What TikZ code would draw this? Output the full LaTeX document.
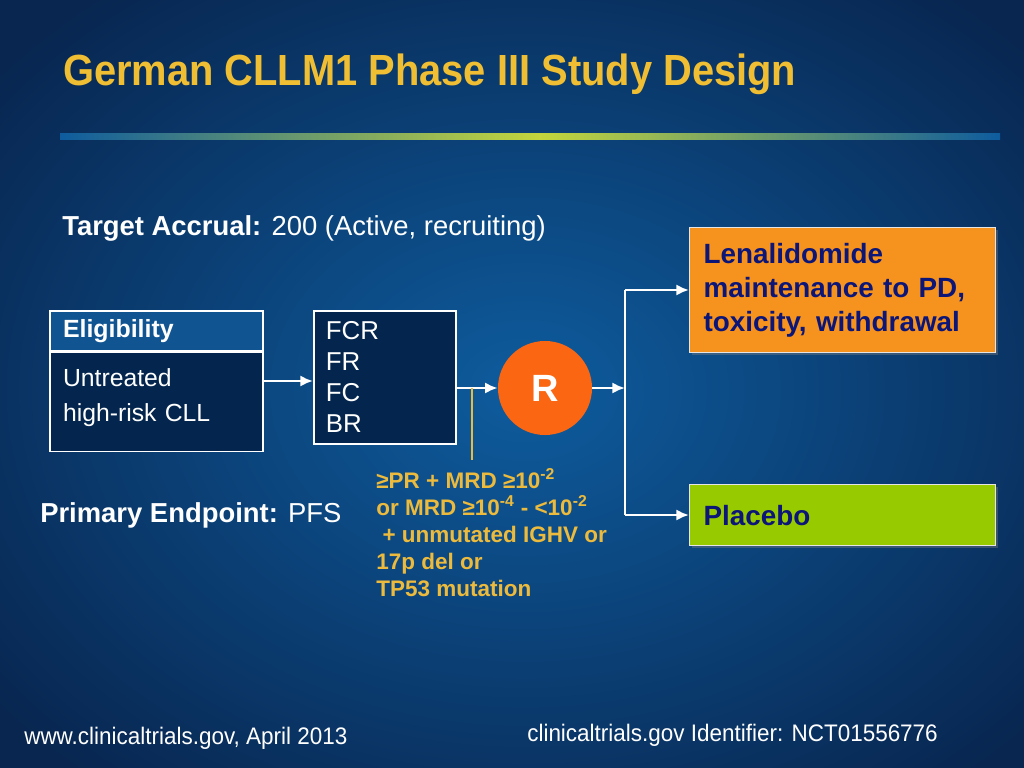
\documentclass[tikz,border=0pt]{standalone}
\usepackage{fontspec}
\setmainfont{Liberation Sans}
\usepackage{graphicx}
\usepackage{xcolor}
\usetikzlibrary{positioning, arrows.meta, shadows}

\definecolor{bginner}{RGB}{14,92,158}
\definecolor{bgouter}{RGB}{8,38,80}
\definecolor{titleyellow}{RGB}{240,190,50}
\definecolor{crityellow}{RGB}{236,186,60}
\definecolor{navyfill}{RGB}{4,38,78}
\definecolor{headblue}{RGB}{16,84,146}
\definecolor{rorange}{RGB}{250,102,18}
\definecolor{armorange}{RGB}{246,146,30}
\definecolor{armgreen}{RGB}{152,202,0}
\definecolor{armtext}{RGB}{12,22,120}
\definecolor{rulegreen}{RGB}{196,214,60}

\begin{document}
\begin{tikzpicture}[x=0.025cm, y=-0.025cm, >={Latex[length=9pt, width=8pt]},
   every node/.style={font=\fontsize{19.5}{23}\selectfont, text=white},
   navybox/.style={draw=white, line width=1.2pt, fill=navyfill, inner sep=0pt},
   armbox/.style={draw=white!80!gray, line width=0.8pt, anchor=north west,
      minimum width=7.65cm, inner xsep=0.35cm, text width=6.95cm, align=left,
      text=armtext, font=\fontsize{19.8}{24}\selectfont\bfseries,
      drop shadow={shadow xshift=2pt, shadow yshift=-2pt, opacity=0.4}},
   flow/.style={->, white, line width=2pt}]

   % background
   \useasboundingbox (0,0) rectangle (1024,768);
   \clip (0,0) rectangle (1024,768);
   \shade[inner color=bginner, outer color=bgouter] (-150,-120) rectangle (1200,900);
   \shade[left color=bginner, right color=rulegreen] (60,134) rectangle (540,140);
   \shade[left color=rulegreen, right color=bginner] (540,134) rectangle (1000,140);

   \node[anchor=base west, inner sep=0pt, text=titleyellow,
      font=\fontsize{31}{36}\selectfont\bfseries] (title) at (63,86)
      {\scalebox{0.914}[1]{German CLLM1 Phase III Study Design}};

   \node[anchor=west, inner sep=0pt] (accrual) at (62,228)
      {\textbf{Target Accrual:} 200 (Active, recruiting)};

   % eligibility
   \node[navybox, fill=headblue, anchor=north west, minimum width=5.33cm,
      minimum height=1cm, inner xsep=0.33cm, text width=4.67cm, align=left,
      font=\fontsize{17.7}{20}\selectfont\bfseries] (elighead) at (49,310) {Eligibility};
   \node[navybox, below=0pt of elighead, minimum width=5.33cm, minimum height=2.475cm,
      inner xsep=0.33cm, text width=4.67cm, align=left,
      font=\fontsize{17.6}{25}\selectfont] (eligbody) {Untreated\\high-risk CLL\\[-15pt]\mbox{}};

   \node[navybox, anchor=north west, minimum width=3.55cm, minimum height=3.325cm,
      inner xsep=0.3cm, text width=2.95cm, align=left,
      font=\fontsize{18.4}{22}\selectfont] (regimen) at (313,310) {FCR\\FR\\FC\\BR};

   \node[circle, fill=rorange, minimum size=2.35cm, inner sep=0pt,
      font=\fontsize{27}{30}\selectfont\bfseries] (rand) at (545,388) {R};

   \coordinate (tap) at (472,388);
   \node[anchor=north west, inner sep=0pt, align=left, text=crityellow,
      font=\fontsize{16}{19.3}\selectfont\bfseries] (crit) at (376,468)
      {≥PR + MRD ≥10\textsuperscript{-2}\\
       or MRD ≥10\textsuperscript{-4} - <10\textsuperscript{-2}\\
       \ + unmutated IGHV or\\
       17p del or\\
       TP53 mutation};
   \coordinate (critend) at (472,460);

   % arms
   \node[armbox, fill=armorange, minimum height=3.125cm] (lena) at (689,227)
      {Lenalidomide\\maintenance to PD,\\toxicity, withdrawal};
   \node[armbox, fill=armgreen, minimum height=1.525cm] (placebo) at (689,484) {Placebo};

   \coordinate (split) at (625,388);
   \coordinate (splittop) at (625,290);
   \coordinate (splitbot) at (625,515);

   \node[anchor=west, inner sep=0pt] (endpoint) at (40,515)
      {\textbf{Primary Endpoint:} PFS};

   \node[anchor=west, inner sep=0pt, font=\fontsize{17}{20}\selectfont] (src) at (24,738)
      {\scalebox{0.94}[1]{www.clinicaltrials.gov, April 2013}};
   \node[anchor=west, inner sep=0pt, font=\fontsize{17}{20}\selectfont] (nct) at (527,735)
      {\scalebox{0.94}[1]{clinicaltrials.gov Identifier: NCT01556776}};

   % connectors
   \draw[flow] (eligbody.east |- 0,381) -- (regimen.west |- 0,381);
   \draw[flow] (regimen.east |- rand) -- (rand.west);
   \draw[crityellow, line width=2pt] (tap) -- (critend);
   \draw[white, line width=2pt] (splittop) -- (splitbot);
   \draw[flow] (splittop) -- (lena.west |- splittop);
   \draw[flow] (splitbot) -- (placebo.west |- splitbot);
   \draw[flow] (rand.east) -- (split);
\end{tikzpicture}
\end{document}
